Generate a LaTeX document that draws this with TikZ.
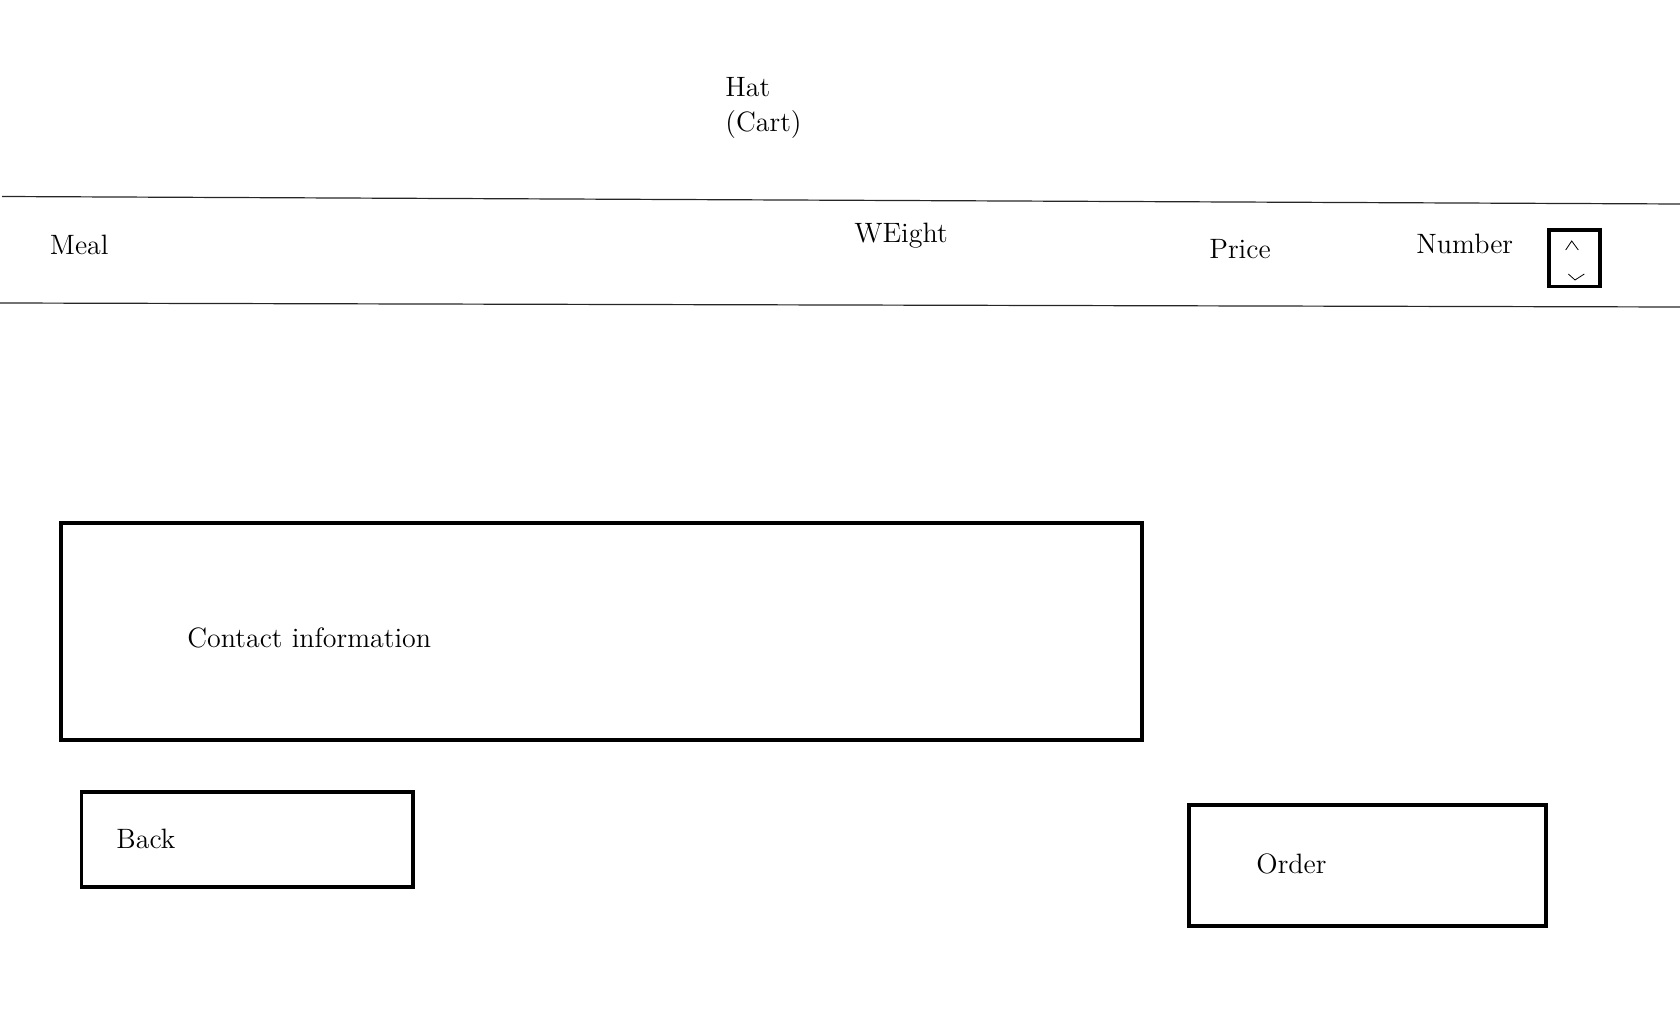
\documentclass[tikz,border=0pt]{standalone}
\begin{document}
\begin{tikzpicture}[x=0.5pt,y=-0.5pt,
  txt/.style={anchor=base west,inner sep=0pt,font=\fontsize{14}{18}\selectfont},
  box/.style={draw,rectangle,line width=1.7pt,inner sep=0pt},
  rule/.style={draw=black!85,line width=0.6pt}]
\useasboundingbox (0,0) rectangle (1680,1010);

\node[txt] (hat) at (725,96.7) {Hat};
\node[txt] (cart) at (725,131.7) {(Cart)};

\coordinate (r1a) at (2,196.5);
\coordinate (r1b) at (1680,204);
\coordinate (r2a) at (0,303);
\coordinate (r2b) at (1680,307);
\draw[rule] (r1a) -- (r1b);
\draw[rule] (r2a) -- (r2b);

\node[txt] (meal) at (49.5,255) {Meal};
\node[txt] (weight) at (854,242.7) {WEight};
\node[txt] (price) at (1209,258.3) {Price};
\node[txt] (number) at (1416,253.3) {Number};
\node[box,minimum width=25.5pt,minimum height=28.3pt] (spin) at (1574.5,258.3) {};
\draw[line width=0.4pt] (1565.7,250) -- (1571.7,241) -- (1578.3,250);
\draw[line width=0.4pt] (1568.3,274) -- (1575,280) -- (1584.3,274);

\node[box,minimum width=540.5pt,minimum height=108.5pt] (contact) at (601.5,631.5) {};
\node[txt] (contacttxt) at (187,647) {Contact information};

\node[box,minimum width=165.7pt,minimum height=47.5pt] (back) at (247.3,839.5) {};
\node[txt] (backtxt) at (116,848) {Back};

\node[box,minimum width=178.5pt,minimum height=60.5pt] (order) at (1367.5,865.5) {};
\node[txt] (ordertxt) at (1256,873) {Order};
\end{tikzpicture}
\end{document}
